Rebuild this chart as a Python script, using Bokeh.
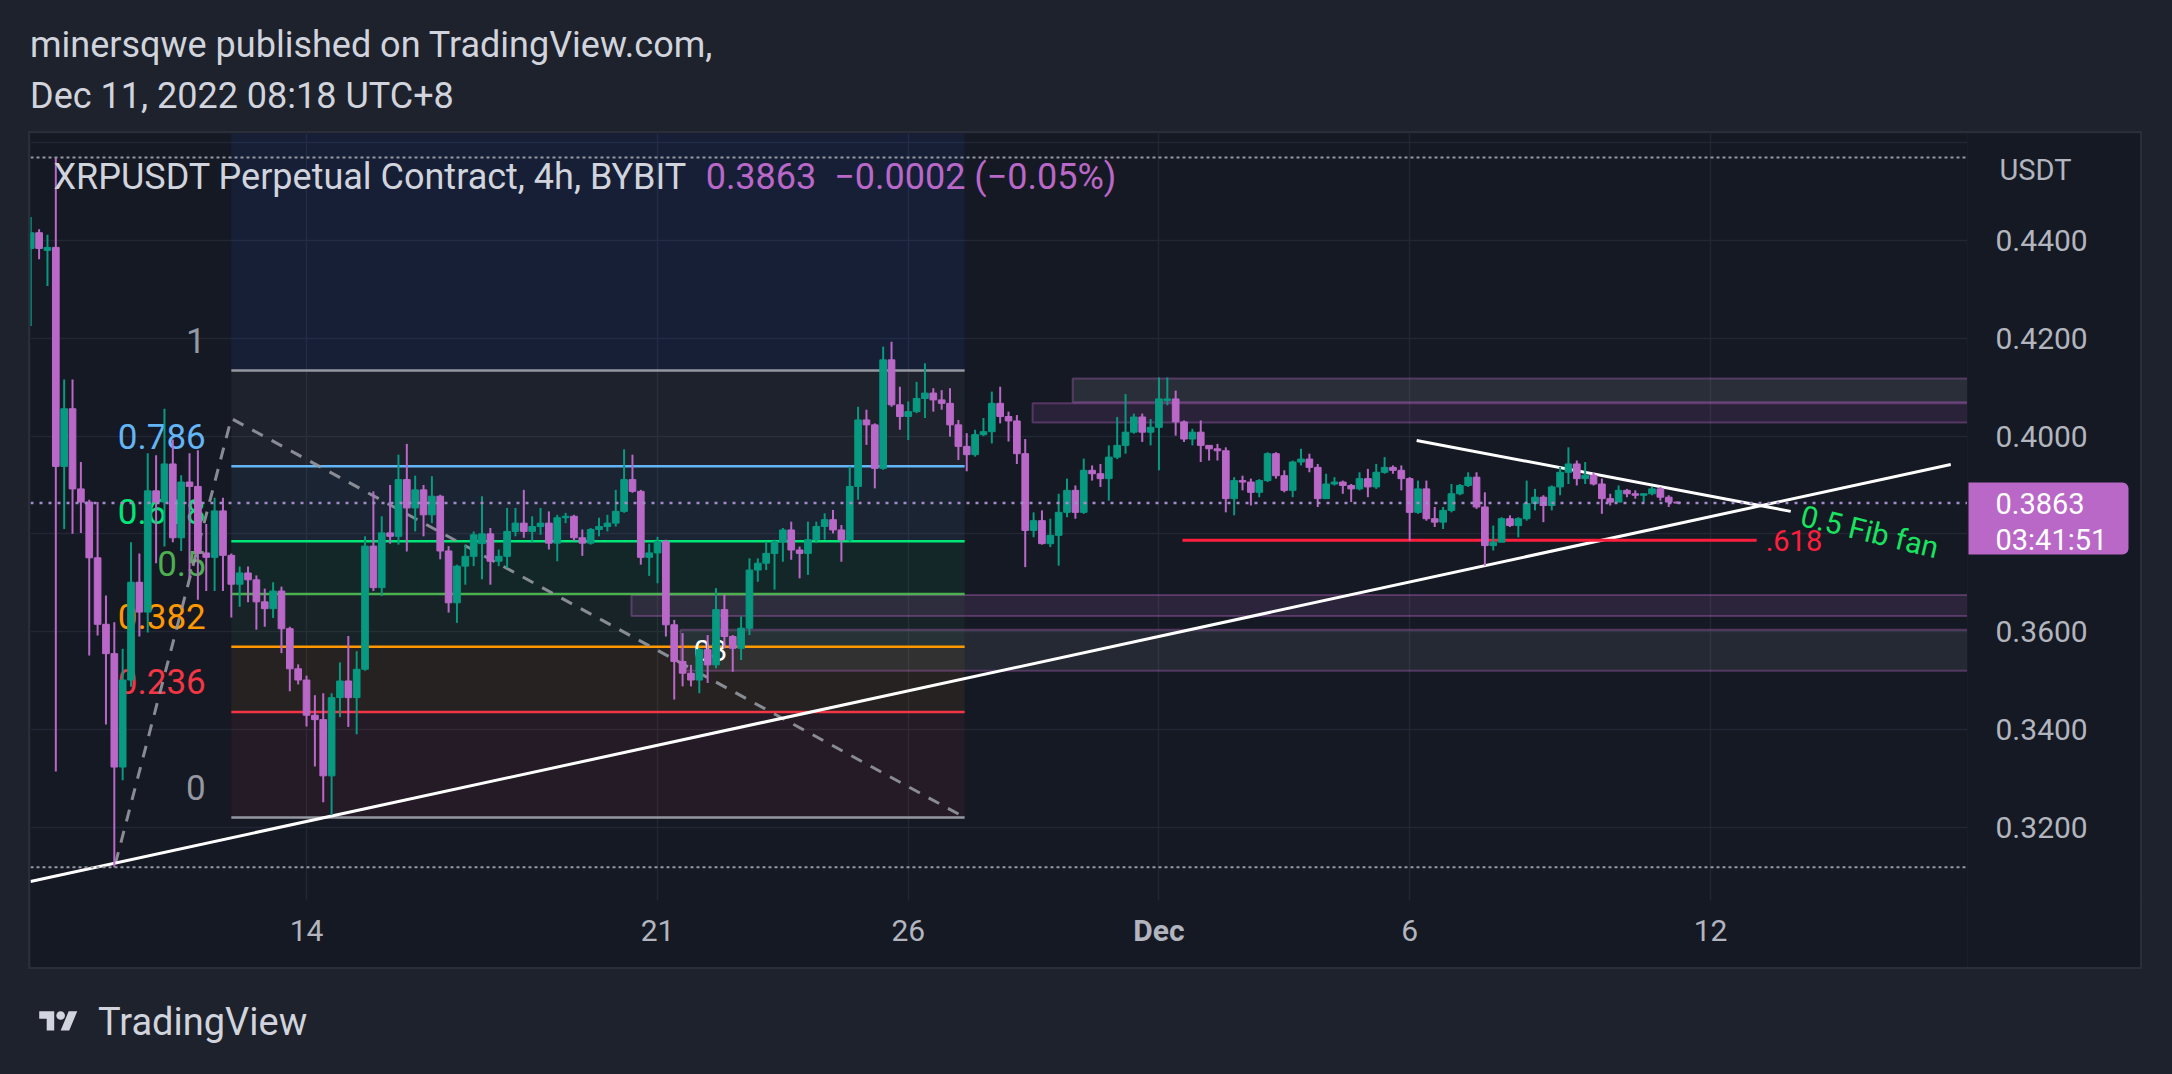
from datetime import datetime
import pandas as pd
from bokeh.plotting import figure
from bokeh.models import (ColumnDataSource, Range1d, FixedTicker, Grid, DatetimeAxis,
                          Label, Div, Spacer)
from bokeh.layouts import column, row
from bokeh.embed import file_html
from bokeh.resources import INLINE
from bokeh.core.properties import value

# ---------------- data (XRPUSDT 4h) ----------------
opens = [
    0.4384, 0.4416, 0.4380, 0.4386, 0.3938, 0.4056,
    0.3892, 0.3865, 0.3751, 0.3615, 0.3555, 0.3323,
    0.3501, 0.3701, 0.3640, 0.3888, 0.3865, 0.3943,
    0.3792, 0.3906, 0.3897, 0.3761, 0.3752, 0.3847,
    0.3756, 0.3697, 0.3720, 0.3706, 0.3661, 0.3647,
    0.3683, 0.3606, 0.3524, 0.3501, 0.3429, 0.3420,
    0.3305, 0.3465, 0.3499, 0.3465, 0.3523, 0.3775,
    0.3690, 0.3802, 0.3795, 0.3911, 0.3853, 0.3890,
    0.3839, 0.3877, 0.3765, 0.3659, 0.3734, 0.3754,
    0.3780, 0.3800, 0.3744, 0.3754, 0.3805, 0.3822,
    0.3805, 0.3815, 0.3822, 0.3781, 0.3833, 0.3836,
    0.3792, 0.3781, 0.3809, 0.3815, 0.3822, 0.3846,
    0.3911, 0.3887, 0.3752, 0.3761, 0.3784, 0.3614,
    0.3539, 0.3515, 0.3501, 0.3563, 0.3532, 0.3645,
    0.3590, 0.3566, 0.3607, 0.3726, 0.3740, 0.3760,
    0.3784, 0.3808, 0.3767, 0.3760, 0.3788, 0.3815,
    0.3829, 0.3808, 0.3788, 0.3897, 0.4033, 0.4023,
    0.3934, 0.4156, 0.4064, 0.4040, 0.4050, 0.4077,
    0.4088, 0.4074, 0.4067, 0.4023, 0.3979, 0.3962,
    0.4003, 0.4009, 0.4067, 0.4040, 0.4031, 0.3964,
    0.3807, 0.3827, 0.3780, 0.3797, 0.3844, 0.3889,
    0.3844, 0.3930, 0.3923, 0.3913, 0.3957, 0.3981,
    0.4008, 0.4039, 0.4008, 0.4018, 0.4073, 0.4076,
    0.4029, 0.3994, 0.4008, 0.3981, 0.3974, 0.3970,
    0.3872, 0.3909, 0.3906, 0.3885, 0.3909, 0.3964,
    0.3919, 0.3889, 0.3947, 0.3953, 0.3936, 0.3872,
    0.3902, 0.3906, 0.3899, 0.3892, 0.3913, 0.3896,
    0.3926, 0.3936, 0.3930, 0.3913, 0.3844, 0.3892,
    0.3831, 0.3824, 0.3848, 0.3882, 0.3899, 0.3916,
    0.3855, 0.3776, 0.3783, 0.3831, 0.3817, 0.3831,
    0.3862, 0.3875, 0.3858, 0.3896, 0.3926, 0.3943,
    0.3913, 0.3920, 0.3902, 0.3872, 0.3865, 0.3889,
    0.3882, 0.3879, 0.3882, 0.3892, 0.3875, 0.3865,
]
closes = [
    0.4416, 0.4384, 0.4386, 0.3938, 0.4056, 0.3892,
    0.3865, 0.3751, 0.3615, 0.3555, 0.3323, 0.3501,
    0.3701, 0.3640, 0.3888, 0.3865, 0.3943, 0.3792,
    0.3906, 0.3897, 0.3761, 0.3752, 0.3847, 0.3756,
    0.3697, 0.3720, 0.3706, 0.3661, 0.3647, 0.3683,
    0.3606, 0.3524, 0.3501, 0.3429, 0.3420, 0.3305,
    0.3465, 0.3499, 0.3465, 0.3523, 0.3775, 0.3690,
    0.3802, 0.3795, 0.3911, 0.3853, 0.3890, 0.3839,
    0.3877, 0.3765, 0.3659, 0.3734, 0.3754, 0.3798,
    0.3800, 0.3744, 0.3754, 0.3805, 0.3822, 0.3805,
    0.3815, 0.3822, 0.3781, 0.3833, 0.3836, 0.3792,
    0.3781, 0.3809, 0.3815, 0.3822, 0.3846, 0.3911,
    0.3887, 0.3752, 0.3761, 0.3784, 0.3614, 0.3539,
    0.3515, 0.3501, 0.3563, 0.3532, 0.3645, 0.3590,
    0.3566, 0.3607, 0.3726, 0.3740, 0.3760, 0.3784,
    0.3808, 0.3767, 0.3760, 0.3788, 0.3815, 0.3829,
    0.3808, 0.3788, 0.3897, 0.4033, 0.4023, 0.3934,
    0.4156, 0.4064, 0.4040, 0.4050, 0.4077, 0.4088,
    0.4074, 0.4067, 0.4023, 0.3979, 0.3962, 0.4003,
    0.4009, 0.4067, 0.4040, 0.4031, 0.3964, 0.3807,
    0.3827, 0.3780, 0.3797, 0.3844, 0.3889, 0.3844,
    0.3930, 0.3923, 0.3913, 0.3957, 0.3981, 0.4008,
    0.4039, 0.4008, 0.4018, 0.4076, 0.4076, 0.4029,
    0.3994, 0.4008, 0.3981, 0.3974, 0.3970, 0.3872,
    0.3909, 0.3906, 0.3885, 0.3909, 0.3964, 0.3919,
    0.3889, 0.3947, 0.3953, 0.3936, 0.3872, 0.3902,
    0.3906, 0.3899, 0.3892, 0.3913, 0.3896, 0.3926,
    0.3936, 0.3930, 0.3913, 0.3844, 0.3892, 0.3831,
    0.3824, 0.3848, 0.3882, 0.3899, 0.3916, 0.3855,
    0.3776, 0.3783, 0.3831, 0.3817, 0.3831, 0.3862,
    0.3875, 0.3858, 0.3896, 0.3926, 0.3943, 0.3913,
    0.3920, 0.3902, 0.3872, 0.3865, 0.3889, 0.3882,
    0.3879, 0.3882, 0.3892, 0.3875, 0.3865, 0.3863,
]
highs = [
    0.4448, 0.4423, 0.4412, 0.4570, 0.4116, 0.4116,
    0.3947, 0.3870, 0.3865, 0.3674, 0.3619, 0.3565,
    0.3783, 0.3760, 0.3965, 0.3961, 0.4056, 0.3993,
    0.3920, 0.3965, 0.3971, 0.3820, 0.3874, 0.3874,
    0.3760, 0.3733, 0.3733, 0.3715, 0.3688, 0.3701,
    0.3692, 0.3610, 0.3533, 0.3510, 0.3470, 0.3474,
    0.3474, 0.3537, 0.3591, 0.3560, 0.3795, 0.3887,
    0.3836, 0.3900, 0.3962, 0.3984, 0.3919, 0.3900,
    0.3918, 0.3880, 0.3775, 0.3737, 0.3778, 0.3805,
    0.3877, 0.3812, 0.3768, 0.3853, 0.3853, 0.3890,
    0.3836, 0.3853, 0.3846, 0.3839, 0.3843, 0.3839,
    0.3809, 0.3812, 0.3833, 0.3839, 0.3890, 0.3973,
    0.3962, 0.3890, 0.3780, 0.3794, 0.3788, 0.3624,
    0.3597, 0.3532, 0.3566, 0.3593, 0.3689, 0.3675,
    0.3593, 0.3631, 0.3750, 0.3750, 0.3784, 0.3788,
    0.3812, 0.3825, 0.3774, 0.3825, 0.3825, 0.3842,
    0.3849, 0.3818, 0.3938, 0.4060, 0.4054, 0.4026,
    0.4183, 0.4193, 0.4101, 0.4071, 0.4111, 0.4149,
    0.4098, 0.4094, 0.4098, 0.4033, 0.4006, 0.4013,
    0.4037, 0.4091, 0.4101, 0.4050, 0.4043, 0.3994,
    0.3844, 0.3848, 0.3831, 0.3882, 0.3913, 0.3899,
    0.3954, 0.3940, 0.3943, 0.3981, 0.4039, 0.4086,
    0.4046, 0.4046, 0.4035, 0.4120, 0.4120, 0.4093,
    0.4032, 0.4015, 0.4032, 0.3981, 0.3984, 0.3977,
    0.3916, 0.3919, 0.3913, 0.3912, 0.3967, 0.3967,
    0.3930, 0.3950, 0.3974, 0.3964, 0.3943, 0.3923,
    0.3916, 0.3909, 0.3902, 0.3926, 0.3933, 0.3943,
    0.3957, 0.3940, 0.3940, 0.3916, 0.3909, 0.3909,
    0.3855, 0.3855, 0.3902, 0.3902, 0.3926, 0.3926,
    0.3885, 0.3817, 0.3834, 0.3838, 0.3834, 0.3909,
    0.3892, 0.3879, 0.3899, 0.3937, 0.3977, 0.3950,
    0.3947, 0.3926, 0.3913, 0.3882, 0.3899, 0.3892,
    0.3889, 0.3882, 0.3896, 0.3896, 0.3879, 0.3866,
]
lows = [
    0.4225, 0.4362, 0.4307, 0.3314, 0.3810, 0.3800,
    0.3802, 0.3551, 0.3592, 0.3410, 0.3118, 0.3296,
    0.3487, 0.3590, 0.3598, 0.3740, 0.3774, 0.3783,
    0.3765, 0.3710, 0.3665, 0.3683, 0.3683, 0.3683,
    0.3629, 0.3651, 0.3660, 0.3604, 0.3610, 0.3628,
    0.3556, 0.3478, 0.3492, 0.3406, 0.3324, 0.3251,
    0.3225, 0.3425, 0.3405, 0.3390, 0.3520, 0.3683,
    0.3673, 0.3780, 0.3778, 0.3764, 0.3805, 0.3795,
    0.3822, 0.3748, 0.3639, 0.3618, 0.3696, 0.3734,
    0.3707, 0.3696, 0.3734, 0.3730, 0.3795, 0.3792,
    0.3782, 0.3798, 0.3768, 0.3744, 0.3822, 0.3785,
    0.3755, 0.3778, 0.3795, 0.3805, 0.3815, 0.3843,
    0.3884, 0.3737, 0.3714, 0.3699, 0.3590, 0.3461,
    0.3488, 0.3488, 0.3474, 0.3495, 0.3525, 0.3566,
    0.3518, 0.3542, 0.3593, 0.3702, 0.3726, 0.3686,
    0.3743, 0.3747, 0.3709, 0.3716, 0.3781, 0.3788,
    0.3801, 0.3743, 0.3784, 0.3870, 0.3982, 0.3893,
    0.3931, 0.4060, 0.4013, 0.3992, 0.4047, 0.4037,
    0.4050, 0.4054, 0.3999, 0.3951, 0.3928, 0.3958,
    0.4000, 0.3985, 0.4026, 0.3989, 0.3943, 0.3732,
    0.3793, 0.3778, 0.3773, 0.3735, 0.3834, 0.3831,
    0.3841, 0.3909, 0.3896, 0.3868, 0.3953, 0.3964,
    0.4005, 0.3988, 0.3981, 0.3930, 0.4063, 0.4001,
    0.3988, 0.3981, 0.3947, 0.3950, 0.3950, 0.3844,
    0.3838, 0.3889, 0.3858, 0.3875, 0.3906, 0.3913,
    0.3885, 0.3875, 0.3940, 0.3926, 0.3855, 0.3872,
    0.3899, 0.3882, 0.3865, 0.3889, 0.3875, 0.3892,
    0.3923, 0.3923, 0.3889, 0.3786, 0.3841, 0.3827,
    0.3814, 0.3810, 0.3844, 0.3879, 0.3896, 0.3851,
    0.3735, 0.3766, 0.3783, 0.3814, 0.3793, 0.3827,
    0.3848, 0.3824, 0.3848, 0.3879, 0.3902, 0.3899,
    0.3902, 0.3899, 0.3841, 0.3858, 0.3865, 0.3875,
    0.3872, 0.3865, 0.3879, 0.3868, 0.3855, 0.3862,
]
FIRST_BAR = "2022-11-08 12:00"
BAR_FREQ = "4h"

# axis ticks
time_ticks = [datetime(2022, 11, 14), datetime(2022, 11, 21), datetime(2022, 11, 26),
              datetime(2022, 12, 6), datetime(2022, 12, 12)]
time_labels = ["14", "21", "26", "6", "12"]
MONTH_TICK = datetime(2022, 12, 1)
MONTH_LABEL = "Dec"
price_ticks = [0.32, 0.34, 0.36, 0.38, 0.40, 0.42, 0.44]
price_labels = [f"{v:.4f}" for v in price_ticks]
price_grid = [0.32, 0.34, 0.36, 0.38, 0.40, 0.42, 0.44, 0.46]
UNIT_TICK = 0.4545
UNIT_LABEL = "USDT"
COUNTDOWN = "03:41:51"

# Fibonacci retracement drawing
FIB_T0 = datetime(2022, 11, 12, 12, 0)
FIB_T1 = datetime(2022, 11, 27, 3, 0)
FIB_HIGH = 0.4134
FIB_LOW = 0.3220
FIB_LEVELS = [1, 0.786, 0.618, 0.5, 0.382, 0.236, 0]
FIB_LABELS = ["1", "0.786", "0.618", "0.5", "0.382", "0.236", "0"]
FIB_COLORS = ["#9598a1", "#64b5f6", "#00e676", "#4caf50", "#ff9800", "#f23645", "#9598a1"]
FIB_LABEL_T = datetime(2022, 11, 11, 23, 45)

# other drawings
fan_t = [datetime(2022, 11, 10, 4, 30), datetime(2022, 11, 12, 12, 0), datetime(2022, 11, 27, 3, 0)]
fan_p = [0.3125, 0.4036, 0.3220]
trend_t = [datetime(2022, 11, 8, 11, 53), datetime(2022, 12, 16, 19, 0)]
trend_p = [0.3089, 0.3942]
desc_t = [datetime(2022, 12, 6, 3, 20), datetime(2022, 12, 13, 14, 24)]
desc_p = [0.3991, 0.3846]
red_t = [datetime(2022, 12, 1, 11, 15), datetime(2022, 12, 12, 22, 5)]
red_p = 0.3787
zones_left = [datetime(2022, 11, 29, 6, 43), datetime(2022, 11, 28, 11, 31),
              datetime(2022, 11, 20, 11, 31), datetime(2022, 11, 21, 11, 3)]
zones_bottom = [0.4069, 0.4028, 0.3632, 0.3520]
zones_top = [0.4118, 0.4067, 0.3675, 0.3604]
zones_color = ["#787b86", "#ba68c8", "#ba68c8", "#787b86"]
zones_alpha = [0.22, 0.13, 0.14, 0.17]

X_START = datetime(2022, 11, 8, 11, 53)
X_END = datetime(2022, 12, 17, 3, 0)
Y_MIN, Y_MAX = 0.3050, 0.4619

# ---------------- style ----------------
OUTER = "#1e222d"
PANE = "#151924"
PANE_BORDER = "#2a2e39"
GRID = "#232733"
TXT = "#d1d4dc"
AXT = "#b2b5be"
UP = "#089981"
DOWN = "#ba68c8"
FONT = "Roboto"
FRAME_H = 767
AXIS_H = 67
SCALE_W = 173

times = pd.date_range(FIRST_BAR, periods=len(closes), freq=BAR_FREQ)
bar_ms = pd.Timedelta(BAR_FREQ).total_seconds() * 1000

src = ColumnDataSource(dict(
    t=times, o=opens, h=highs, l=lows, c=closes,
    top=[max(o, c) for o, c in zip(opens, closes)],
    bot=[min(o, c) for o, c in zip(opens, closes)],
    col=[UP if c >= o else DOWN for o, c in zip(opens, closes)],
))

yr = Range1d(Y_MIN, Y_MAX)
p = figure(width=1937, height=FRAME_H + AXIS_H, x_axis_type="datetime", y_axis_location=None,
           x_range=Range1d(X_START, X_END), y_range=yr,
           output_backend="svg", toolbar_location=None,
           min_border_left=0, min_border_top=0, min_border_right=0, min_border_bottom=AXIS_H,
           background_fill_color=PANE, border_fill_color=PANE, outline_line_color=None)
p.margin = (0, 0, 0, 0)


def style_axis(ax):
    ax.axis_line_color = None
    ax.major_tick_line_color = None
    ax.minor_tick_line_color = None
    ax.major_tick_in = 0
    ax.major_tick_out = 0
    ax.minor_tick_in = 0
    ax.minor_tick_out = 0
    ax.major_label_text_color = AXT
    ax.major_label_text_font = FONT
    ax.major_label_text_font_size = "30px"


# time axis
tick_ms = [pd.Timestamp(t).value // 10**6 for t in time_ticks]
month_ms = pd.Timestamp(MONTH_TICK).value // 10**6
p.xaxis.ticker = FixedTicker(ticks=tick_ms)
p.xaxis.major_label_overrides = dict(zip(tick_ms, time_labels))
style_axis(p.xaxis[0])
p.xaxis.major_label_standoff = 19
month_axis = DatetimeAxis(ticker=FixedTicker(ticks=[month_ms]),
                          major_label_overrides={month_ms: MONTH_LABEL})
style_axis(month_axis)
month_axis.major_label_text_font_style = "bold"
month_axis.major_label_standoff = -31
p.add_layout(month_axis, "below")

# grids
for g in p.grid:
    g.visible = False
p.add_layout(Grid(dimension=0, ticker=FixedTicker(ticks=sorted(tick_ms + [month_ms])),
                  grid_line_color=GRID, grid_line_width=1.5))
p.add_layout(Grid(dimension=1, ticker=FixedTicker(ticks=price_grid),
                  grid_line_color=GRID, grid_line_width=1.5))

# fib background bands
fib_prices = [FIB_LOW + lv * (FIB_HIGH - FIB_LOW) for lv in FIB_LEVELS]
p.quad(left=[FIB_T0], right=[FIB_T1], bottom=[fib_prices[0]], top=[Y_MAX + 0.01],
       fill_color="#2962ff", fill_alpha=0.09, line_color=None)
p.quad(left=[FIB_T0] * 6, right=[FIB_T1] * 6, top=fib_prices[:-1], bottom=fib_prices[1:],
       fill_color=FIB_COLORS[:-1], fill_alpha=0.07, line_color=None)

# zones
zone_right = [X_END + pd.Timedelta(days=2)] * len(zones_left)
p.quad(left=zones_left, right=zone_right, bottom=zones_bottom, top=zones_top,
       fill_color=zones_color, fill_alpha=zones_alpha,
       line_color="#ba68c8", line_alpha=0.35, line_width=2)

# fib level lines and labels
p.segment(x0=[FIB_T0] * 7, x1=[FIB_T1] * 7, y0=fib_prices, y1=fib_prices,
          line_color=FIB_COLORS, line_width=2.5)
p.text(x=[FIB_LABEL_T] * 7, y=fib_prices, text=FIB_LABELS, text_color=FIB_COLORS,
       text_align="right", text_baseline="middle", y_offset=-30,
       text_font=value(FONT), text_font_size="35px")

# fan dashed lines
p.line(fan_t, fan_p, line_color="#9598a1", line_width=3, line_dash="12 10", line_alpha=0.9)
p.text(x=[datetime(2022, 11, 22, 1, 22)], y=[0.3562], text=["03"], text_color="#ffffff",
       text_align="center", text_baseline="middle", text_font=value(FONT), text_font_size="30px")

# trend lines
p.line(trend_t, trend_p, line_color="#ffffff", line_width=3)
p.line(desc_t, desc_p, line_color="#ffffff", line_width=3)
p.line(red_t, [red_p, red_p], line_color="#ff1f3d", line_width=3)
p.text(x=[datetime(2022, 12, 13, 2, 24)], y=[red_p], text=[".618"], text_color="#ff1f3d",
       text_align="left", text_baseline="middle", text_font=value(FONT), text_font_size="29px")
p.text(x=[datetime(2022, 12, 13, 19, 35)], y=[0.3838], text=["0.5 Fib fan"], text_color="#19e35f",
       angle=-0.236, text_align="left", text_baseline="middle",
       text_font=value(FONT), text_font_size="30px")

# candles
p.segment(x0="t", x1="t", y0="l", y1="h", line_color="col", line_width=2, source=src)
p.vbar(x="t", width=bar_ms * 0.8, top="top", bottom="bot", fill_color="col",
       line_color="col", line_width=1, source=src)

# high / low and last price lines
hi, lo = max(highs), min(lows)
p.line([X_START, X_END], [hi, hi], line_color="#9598a1", line_width=2, line_dash="3 3")
p.line([X_START, X_END], [lo, lo], line_color="#9598a1", line_width=2, line_dash="3 3")
p.line([X_START, X_END], [closes[-1], closes[-1]], line_color="#a38bc9", line_width=2.5,
       line_dash="3 6")

# legend texts
NB = "\u00a0"
p.add_layout(Label(x=datetime(2022, 11, 8, 22, 54), y=0.4529, text="XRPUSDT Perpetual Contract, 4h, BYBIT",
                   text_color=TXT, text_font=FONT, text_font_size="36px", text_baseline="middle"))
p.add_layout(Label(x=datetime(2022, 11, 21, 23, 2), y=0.4529,
                   text=f"{closes[-1]:.4f}{NB}{NB}\u2212{closes[-2] - closes[-1]:.4f}{NB}(\u22120.05%)",
                   text_color=DOWN, text_font=FONT, text_font_size="36px", text_baseline="middle"))

# ---------------- price scale (shares the price range) ----------------
q = figure(width=SCALE_W, height=FRAME_H + AXIS_H, x_range=Range1d(0, SCALE_W), y_range=yr,
           x_axis_location=None, y_axis_location=None,
           output_backend="svg", toolbar_location=None,
           min_border_left=0, min_border_top=0, min_border_right=0, min_border_bottom=AXIS_H,
           background_fill_color=PANE, border_fill_color=PANE, outline_line_color=None)
q.margin = (0, 0, 0, 0)
for g in q.grid:
    g.visible = False
q.text(x=[28] * len(price_ticks), y=price_ticks, text=price_labels, text_color=AXT,
       text_align="left", text_baseline="middle", text_font=value(FONT), text_font_size="30px")
q.text(x=[32], y=[UNIT_TICK], text=[UNIT_LABEL], text_color=AXT,
       text_align="left", text_baseline="middle", text_font=value(FONT), text_font_size="29px")
last = closes[-1]
q.quad(left=[1], right=[161], top=[last + 0.0042], bottom=[last - 0.0105],
       fill_color=DOWN, line_color=None, border_radius=(0, 6, 6, 0))
q.text(x=[28, 28], y=[last, last], y_offset=[0, 37], text=[f"{last:.4f}", COUNTDOWN],
       text_color="#ffffff", text_align="left", text_baseline="middle",
       text_font=value(FONT), text_font_size="29px")

header = Div(text=(f'<div style="font-family:Roboto;font-size:36px;line-height:51px;color:{TXT};'
                   'padding:20px 0 0 30px;white-space:nowrap;">'
                   'minersqwe published on TradingView.com,<br>Dec 11, 2022 08:18 UTC+8</div>'),
             width=2172, height=133, margin=(0, 0, 0, 0))
logo = ('<svg width="59" height="30" viewBox="0 0 36 28" xmlns="http://www.w3.org/2000/svg" '
        f'style="margin-right:10px"><path fill="{TXT}" d="M14 22H7V11H0V4h14v18zM28 22h-8l7.5-18h8L28 22z"/>'
        f'<circle fill="{TXT}" cx="20" cy="8" r="4"/></svg>')
footer = Div(text=(f'<div style="display:flex;align-items:center;height:110px;padding-left:29px;'
                   f'font-family:Roboto;font-size:38px;color:{TXT};">{logo}<span>TradingView</span></div>'),
             width=2172, height=107, margin=(0, 0, 0, 0))

pane = row(p, q, spacing=0, styles={"outline": f"2px solid {PANE_BORDER}"})
layout = column(header, row(Spacer(width=30, height=FRAME_H + AXIS_H), pane, spacing=0), footer,
                spacing=0, styles={"background-color": OUTER})

html = file_html(layout, INLINE, title="XRPUSDT")
html = html.replace("<body>", f'<body style="background-color:{OUTER};">')
open("out.html", "w").write(html)
